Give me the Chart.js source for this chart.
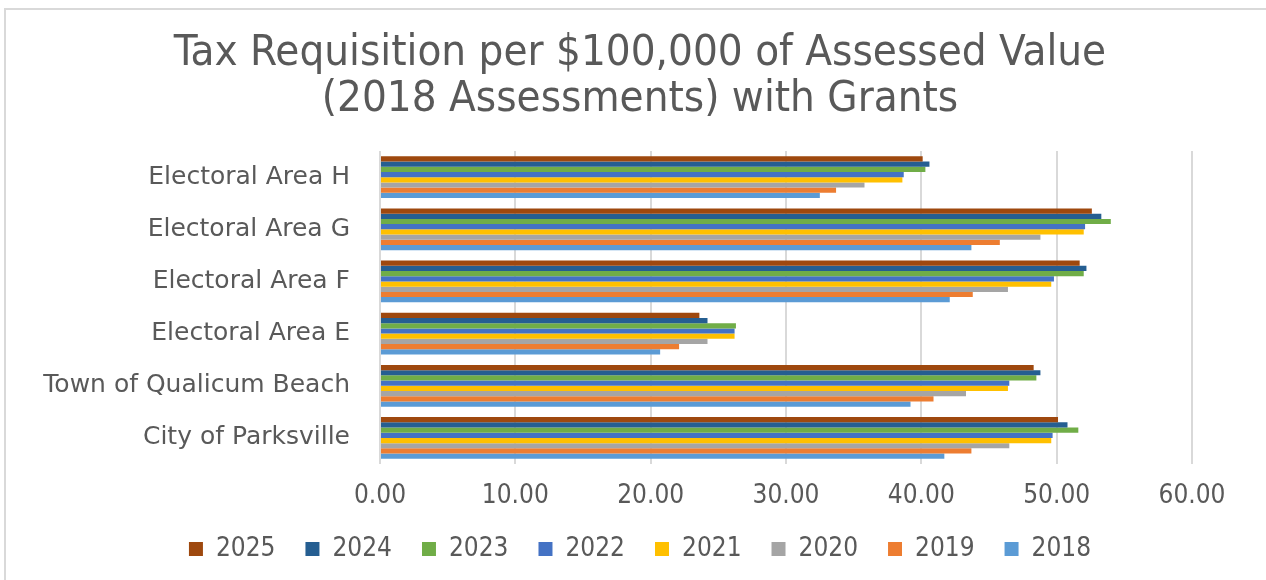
<!DOCTYPE html>
<html>
<head>
<meta charset="utf-8">
<script src="https://cdn.jsdelivr.net/npm/chart.js@4"></script>
<style>
  html, body { margin: 0; padding: 0; background: #ffffff; }
  #wrap { position: relative; width: 1266px; height: 580px; box-sizing: border-box; }
  #frame { position: absolute; left: 4px; top: 8px; width: 1262px; height: 580px; border: 2px solid #d9d9d9; border-right: none; border-bottom: none; box-sizing: border-box; }
  canvas { position: absolute; left: 0; top: 0; }
</style>
</head>
<body>
<div id="wrap">
  <div id="frame"></div>
  <canvas id="chart" width="1266" height="580"></canvas>
</div>
<script>
// categories, top to bottom
const areas = ["Electoral Area H", "Electoral Area G", "Electoral Area F", "Electoral Area E", "Town of Qualicum Beach", "City of Parksville"];

// values per year, same order as areas
const y2025 = [40.1, 52.6, 51.7, 23.6, 48.3, 50.1];
const y2024 = [40.6, 53.3, 52.2, 24.2, 48.8, 50.8];
const y2023 = [40.3, 54.0, 52.0, 26.3, 48.5, 51.6];
const y2022 = [38.7, 52.1, 49.8, 26.2, 46.5, 49.7];
const y2021 = [38.6, 52.0, 49.6, 26.2, 46.4, 49.6];
const y2020 = [35.8, 48.8, 46.4, 24.2, 43.3, 46.5];
const y2019 = [33.7, 45.8, 43.8, 22.1, 40.9, 43.7];
const y2018 = [32.5, 43.7, 42.1, 20.7, 39.2, 41.7];

const years = ["2025", "2024", "2023", "2022", "2021", "2020", "2019", "2018"];
const colours = ["#9e480e", "#255e91", "#70ad47", "#4472c4", "#ffc000", "#a5a5a5", "#ed7d31", "#5b9bd5"];
const series = [y2025, y2024, y2023, y2022, y2021, y2020, y2019, y2018];

const narrow = "'DejaVu Sans Condensed', 'Liberation Sans', sans-serif";

const datasets = years.map(function (yr, i) {
  return {
    label: yr,
    data: series[i],
    backgroundColor: colours[i],
    borderWidth: 0,
    categoryPercentage: 0.8,
    barPercentage: 1.0
  };
});

new Chart(document.getElementById("chart"), {
  type: "bar",
  data: { labels: areas, datasets: datasets },
  options: {
    indexAxis: "y",
    responsive: false,
    animation: false,
    layout: { padding: { left: 27, right: 13, top: 0, bottom: 8 } },
    plugins: {
      title: {
        display: true,
        text: ["Tax Requisition per $100,000 of Assessed Value", "(2018 Assessments) with Grants"],
        color: "#595959",
        font: { family: narrow, size: 43.5, weight: "normal", lineHeight: 1.07 },
        padding: { top: 30, bottom: 28 }
      },
      legend: {
        position: "bottom",
        labels: {
          color: "#595959",
          font: { family: narrow, size: 26 },
          boxWidth: 14,
          boxHeight: 14,
          padding: 30
        }
      },
      tooltip: { enabled: false }
    },
    scales: {
      x: {
        min: 0,
        max: 60,
        ticks: {
          stepSize: 10,
          color: "#595959",
          font: { family: narrow, size: 26 },
          padding: 17,
          callback: function (v) { return v.toFixed(2); }
        },
        grid: { color: "#d9d9d9", lineWidth: 2, drawTicks: false },
        border: { display: false },
        afterFit: function (s) { s.height = 42; }
      },
      y: {
        ticks: {
          color: "#595959",
          font: { family: "'DejaVu Sans', sans-serif", size: 25 },
          padding: 30
        },
        grid: { display: false, drawTicks: false },
        border: { display: false },
        afterFit: function (s) { s.width = 353; }
      },
      // empty right-hand axis, only keeps the plot clear of the right edge
      yRight: {
        type: "linear",
        position: "right",
        ticks: { display: false },
        grid: { display: false, drawTicks: false },
        border: { display: false },
        afterFit: function (s) { s.width = 61; }
      }
    }
  }
});
</script>
</body>
</html>
